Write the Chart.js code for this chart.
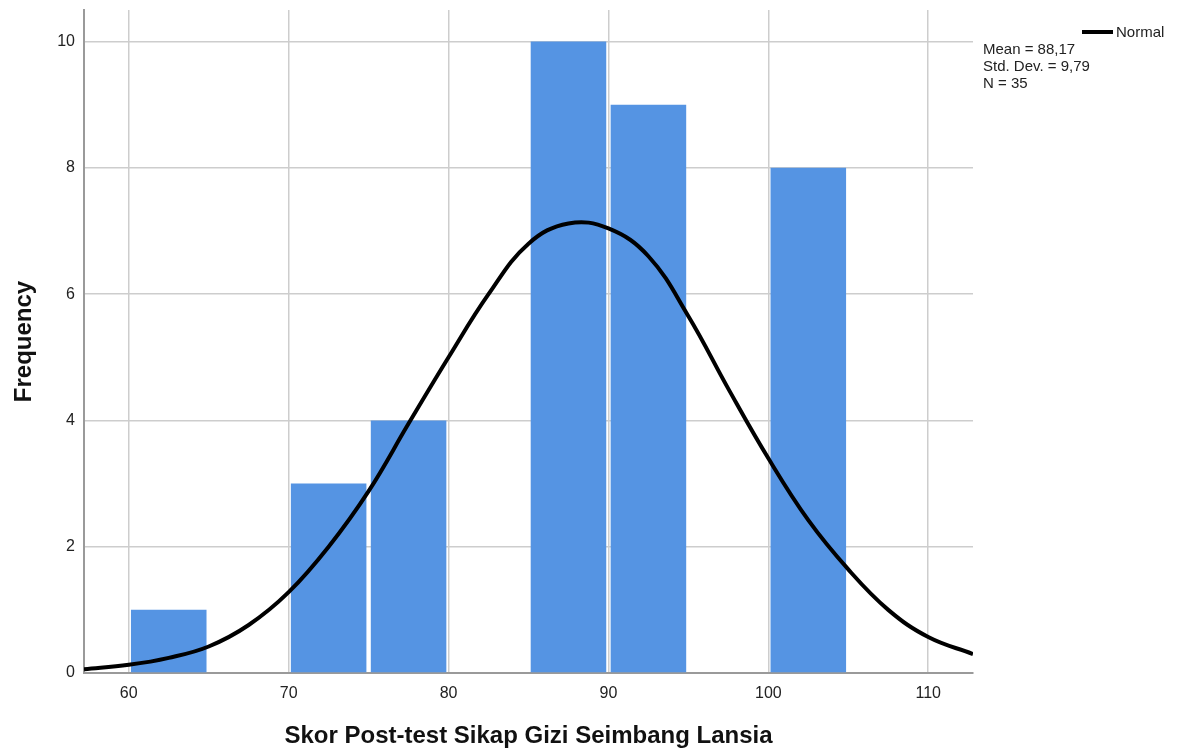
<!DOCTYPE html>
<html>
<head>
<meta charset="utf-8">
<script src="https://cdn.jsdelivr.net/npm/chart.js@4"></script>
<style>
  html, body { margin: 0; padding: 0; background: #fff; }
  #wrap { width: 1184px; height: 751px; }
</style>
</head>
<body>
<div id="wrap"><canvas id="myChart" width="1184" height="751"></canvas></div>
<script>
// histogram bins (midpoints) and counts
var binMids = [62.5, 72.5, 77.5, 87.5, 92.5, 102.5];
var binCounts = [1, 3, 4, 10, 9, 8];

// normal curve
var curveX = [57.2, 60, 62.5, 65, 67.5, 70, 72.5, 75, 77.5, 80, 82.5, 85, 87.5, 90, 92.5, 95, 97.5, 100, 102.5, 105, 107.5, 110, 112.8];
var curveY = [0.06, 0.13, 0.24, 0.42, 0.76, 1.28, 2.0, 2.88, 3.95, 5.0, 6.0, 6.8, 7.12, 7.04, 6.6, 5.65, 4.5, 3.4, 2.42, 1.64, 1.0, 0.57, 0.30];

var yTicks = [0, 2, 4, 6, 8, 10];
var xTicks = [60, 70, 80, 90, 100, 110];

var statLines = ['Mean = 88,17', 'Std. Dev. = 9,79', 'N = 35'];

var FONT = "'Liberation Sans', Arial, sans-serif";

var infoBox = {
    id: 'infoBox',
    afterDraw: function(chart) {
        var c = chart.ctx;
        c.save();
        c.strokeStyle = '#000';
        c.lineWidth = 4;
        c.beginPath();
        c.moveTo(1082, 32);
        c.lineTo(1113, 32);
        c.stroke();
        c.fillStyle = '#222';
        c.font = '15px ' + FONT;
        c.textBaseline = 'middle';
        c.fillText('Normal', 1116, 33);
        statLines.forEach(function(t, i) {
            c.fillText(t, 983, 50 + i * 17);
        });
        c.restore();
    }
};

var ctx = document.getElementById('myChart').getContext('2d');
var myChart = new Chart(ctx, {
    data: {
        datasets: [{
            type: 'line',
            label: 'Normal',
            data: curveX.map(function(x, i) { return { x: x, y: curveY[i] }; }),
            borderColor: '#000',
            borderWidth: 4,
            pointRadius: 0,
            tension: 0.4,
            order: 0
        }, {
            type: 'bar',
            label: 'Frequency',
            data: binMids.map(function(x, i) { return { x: x, y: binCounts[i] }; }),
            backgroundColor: '#5594e3',
            borderWidth: 0,
            barPercentage: 0.945,
            categoryPercentage: 1,
            order: 1
        }]
    },
    options: {
        responsive: false,
        animation: false,
        layout: { padding: { top: 10, right: 211, left: 0, bottom: 0 } },
        plugins: {
            legend: { display: false },
            tooltip: { enabled: false }
        },
        scales: {
            x: {
                type: 'linear',
                min: 57.2,
                max: 112.8,
                offset: false,
                afterFit: function(s) { s.height = 78; s.paddingLeft = 0; s.paddingRight = 0; },
                afterBuildTicks: function(s) { s.ticks = xTicks.map(function(v) { return { value: v }; }); },
                ticks: { includeBounds: false, stepSize: 10, padding: 11, color: '#222', font: { family: FONT, size: 16 } },
                grid: { color: '#cdcdcd', lineWidth: 1.5, drawTicks: false, offset: false },
                border: { color: '#9a9a9a', width: 2 },
                title: {
                    display: true,
                    text: 'Skor Post-test Sikap Gizi Seimbang Lansia',
                    color: '#111',
                    font: { family: FONT, size: 24, weight: 'bold' },
                    padding: { top: 0, bottom: 0 }
                }
            },
            y: {
                min: 0,
                max: 10.5,
                afterFit: function(s) { s.width = 84; s.paddingTop = 0; s.paddingBottom = 0; },
                afterBuildTicks: function(s) { s.ticks = yTicks.map(function(v) { return { value: v }; }); },
                ticks: { includeBounds: false, stepSize: 2, padding: 9, color: '#222', font: { family: FONT, size: 16 } },
                grid: { color: '#cdcdcd', lineWidth: 1.5, drawTicks: false },
                border: { color: '#9a9a9a', width: 2 },
                title: {
                    display: true,
                    text: 'Frequency',
                    color: '#111',
                    font: { family: FONT, size: 24, weight: 'bold' },
                    padding: { top: 10, bottom: 0 }
                }
            }
        }
    },
    plugins: [infoBox]
});
</script>
</body>
</html>
